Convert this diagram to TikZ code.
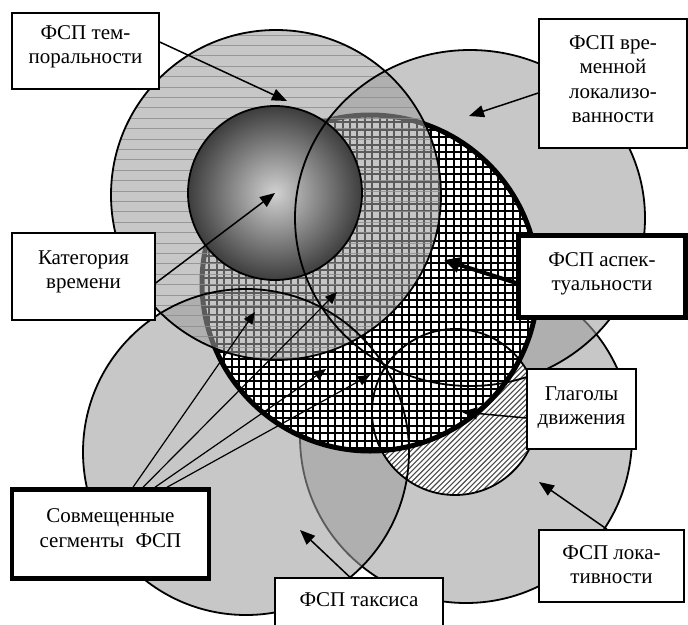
\documentclass[tikz,border=0pt]{standalone}
\usepackage{fontspec}
\setmainfont{Liberation Serif}
\usetikzlibrary{arrows.meta}
\definecolor{ovc}{gray}{0.62}
\definecolor{sphin}{gray}{0.82}
\definecolor{sphout}{gray}{0.24}
\definecolor{hlc}{gray}{0.55}
\definecolor{hatchc}{gray}{0.30}
\newcommand\bxt[4]{\parbox[c][#2][t]{#1}{\centering\rule{0pt}{#3}#4}}
\begin{document}
\begin{tikzpicture}[x=1pt,y=-1pt,
  ovfill/.style={fill=ovc,fill opacity=0.58},
  outl/.style={draw=black,line width=1.8pt},
  box/.style={draw=black,fill=white,line width=1.5pt,inner sep=0pt,font=\fontsize{21}{24.5}\selectfont},
  tbox/.style={box,line width=4.5pt},
  arr/.style={line width=1.5pt,-{Triangle[length=15pt,width=12pt]}},
  sarr/.style={line width=1.2pt,-{Triangle[length=12pt,width=10pt]}},
  tarr/.style={line width=4pt,-{Triangle[length=16pt,width=15pt]}}]
\useasboundingbox (0,0) rectangle (688,624);
\clip (0,0) rectangle (688,624);
% centres
\coordinate (cT) at (276,195);
\coordinate (cS) at (275,193);
\coordinate (cL) at (470,218);
\coordinate (cA) at (370,283);
\coordinate (cX) at (246,452);
\coordinate (cP) at (466,437);
\coordinate (cG) at (455,412);
% locativity
\fill[ovfill] (cP) circle[radius=166];
\draw[outl] (cP) circle[radius=166];
% taxis
\fill[ovfill] (cX) circle[radius=163];
% localization
\fill[ovfill] (cL) ellipse[x radius=175,y radius=168];
% verbs of motion
\begin{scope}
  \clip (cG) circle[radius=83];
  \fill[white] (cG) circle[radius=83];
  \foreach \i in {-24,...,24}
    \draw[hatchc,line width=1.1pt] (355+\i*5.3,512) -- ++(200,-200);
\end{scope}
% aspectuality
\begin{scope}
  \clip (cA) circle[radius=168];
  \fill[white] (cA) circle[radius=168];
  \foreach \i in {0,...,46}{
    \draw[black,line width=2.1pt] (202+\i*7.4,110) -- ++(0,350);
    \draw[black,line width=2.1pt] (195,115+\i*7.4) -- ++(350,0);
  }
\end{scope}
\draw[line width=5pt] (cA) circle[radius=168];
% temporality
\fill[ovfill] (cT) circle[radius=165];
\begin{scope}
  \clip (cT) circle[radius=165];
  \foreach \i in {0,...,32}
    \draw[hlc,line width=1pt,opacity=0.8] (100,35+\i*10.4) -- ++(360,0);
\end{scope}
% category of time
\shade[inner color=sphin,outer color=sphout] (cS) circle[radius=87];
\draw[outl] (cS) circle[radius=87];
% outlines on top
\draw[outl] (cT) circle[radius=165];
\draw[outl] (cL) ellipse[x radius=175,y radius=168];
\draw[outl] (cX) circle[radius=163];
\draw[outl] (cG) circle[radius=83];
% boxes
\node[box] (tb) at (85.5,51) {\bxt{147pt}{76pt}{26pt}{ФСП тем-\\поральности}};
\node[box] (lb) at (613,83.5) {\bxt{148pt}{129pt}{30pt}{ФСП вре-\\менной\\локализо-\\ванности}};
\node[tbox] (ab) at (602,276.5) {\bxt{167pt}{82pt}{30.5pt}{ФСП аспек-\\туальности}};
\node[box] (cb) at (83.5,276.5) {\bxt{143pt}{87pt}{31pt}{Категория\\времени}};
\node[box] (gb) at (581.5,409) {\bxt{109pt}{80pt}{31pt}{Глаголы\\движения}};
\node[tbox] (sb) at (110.5,534) {\bxt{197pt}{89pt}{33pt}{Совмещенные\\сегменты\hspace{0.55em}ФСП}};
\node[box] (xb) at (359,602) {\bxt{168pt}{48pt}{28pt}{ФСП таксиса}};
\node[box] (pb) at (611.5,566) {\bxt{145pt}{72pt}{29pt}{ФСП лока-\\тивности}};
% arrow tips
\coordinate (t1) at (287,101);
\coordinate (t2) at (275,193);
\coordinate (t3) at (469,116);
\coordinate (t4) at (444,260);
\coordinate (t5) at (462,412);
\coordinate (t6) at (539,482);
\coordinate (t7) at (300,530);
\coordinate (s1) at (255,312);
\coordinate (s2) at (337,292);
\coordinate (s3) at (326,369);
\coordinate (s4) at (370,375);
% arrows
\draw[arr] ([yshift=9pt]tb.east) -- (t1);
\draw[arr] ([yshift=-6.5pt]cb.east) -- (t2);
\draw[arr] ([yshift=-9.5pt]lb.west) -- (t3);
\draw[tarr] ([yshift=-6.5pt]ab.west) -- (t4);
\draw[arr] ([yshift=-9pt]gb.west) -- (t5);
\draw[arr] ([xshift=-4.5pt]pb.north) -- (t6);
\draw[arr] ([xshift=-9pt]xb.north) -- (t7);
\draw[sarr] ([xshift=22.5pt]sb.north) -- (s1);
\draw[sarr] ([xshift=32.5pt]sb.north) -- (s2);
\draw[sarr] ([xshift=44.5pt]sb.north) -- (s3);
\draw[sarr] ([xshift=56.5pt]sb.north) -- (s4);
\end{tikzpicture}
\end{document}
